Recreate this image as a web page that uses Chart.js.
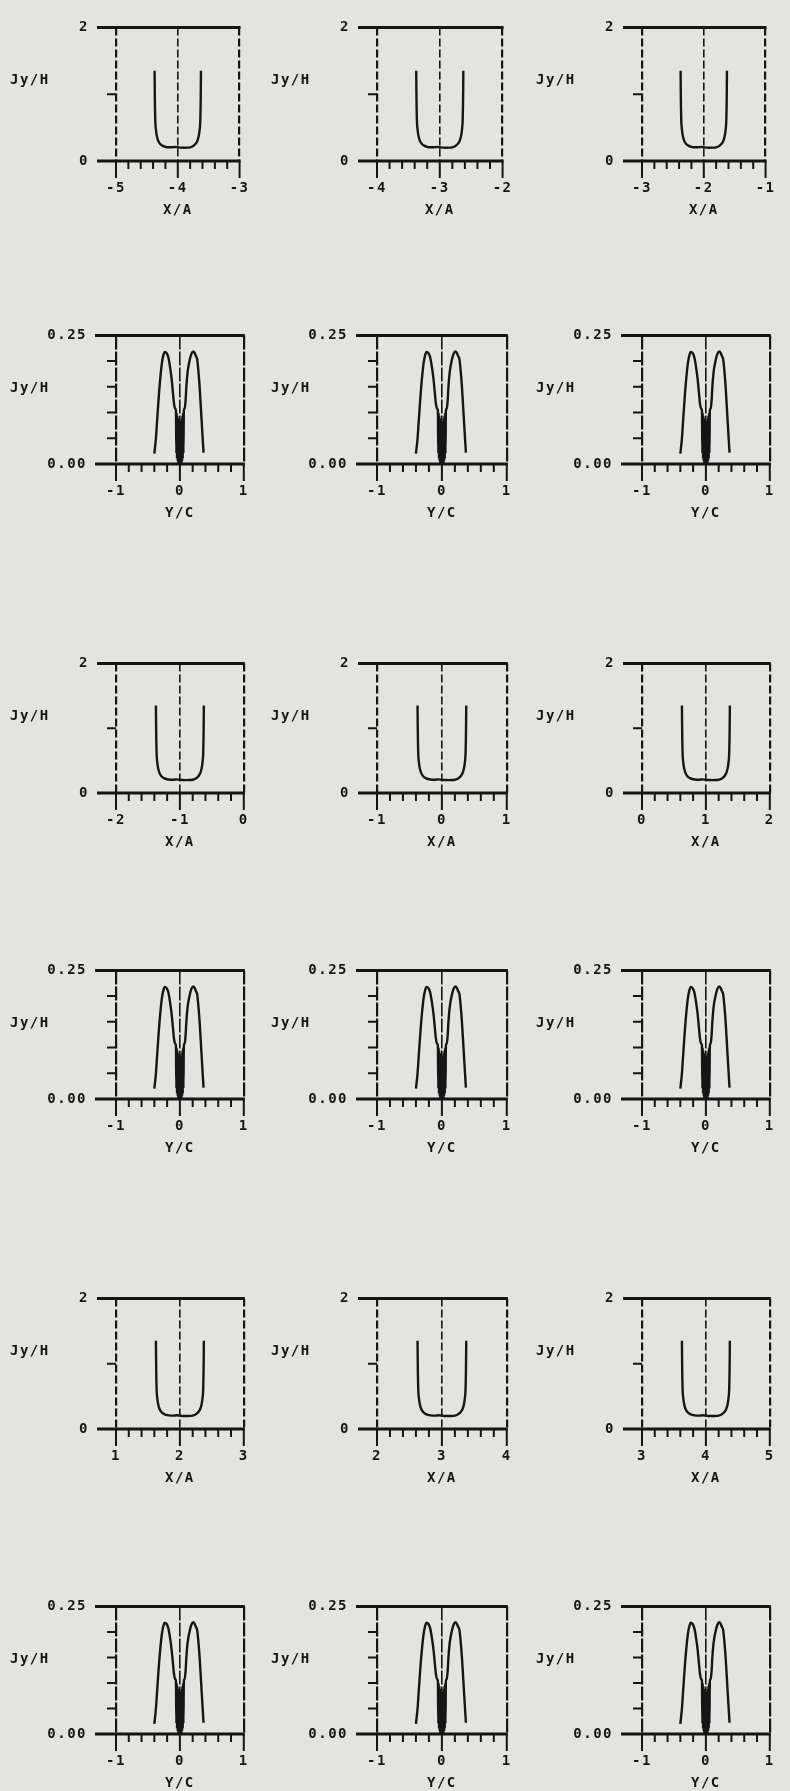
<!DOCTYPE html>
<html>
<head>
<meta charset="utf-8">
<script src="https://cdn.jsdelivr.net/npm/chart.js@4.4.0/dist/chart.umd.min.js"></script>
<style>
  html, body { margin: 0; padding: 0; }
  body { width: 790px; height: 1791px; background: #e3e3e0; position: relative; overflow: hidden; }
  canvas { position: absolute; }
</style>
</head>
<body>
<script>
// centres of the X/A panels, row by row (rows 1, 3, 5 of the sheet)
const xaCentres = [-4, -3, -2, -1, 0, 1, 2, 3, 4];

// U-shaped Jy/H curve, X/A offset from the panel centre
const xaOffsets = [-0.375, -0.373, -0.37, -0.365, -0.355, -0.34, -0.32, -0.29, -0.25, -0.2, -0.15, -0.1, -0.05, 0,
                   0.05, 0.1, 0.15, 0.2, 0.25, 0.29, 0.32, 0.34, 0.355, 0.365, 0.37, 0.373, 0.375];
const xaJy = [1.35, 1.1, 0.85, 0.62, 0.48, 0.38, 0.31, 0.26, 0.23, 0.212, 0.205, 0.205, 0.21, 0.205,
              0.2, 0.198, 0.2, 0.205, 0.225, 0.26, 0.31, 0.38, 0.48, 0.62, 0.85, 1.1, 1.35];

// double-hump Jy/H curve against Y/C (same in all nine Y/C panels)
const ycPos = [-0.40, -0.375, -0.354, -0.32, -0.283, -0.255, -0.236, -0.21, -0.18, -0.15, -0.13, -0.11, -0.094, -0.075, -0.062,
               -0.055, -0.05, -0.045, -0.04, -0.035, -0.03, -0.025, -0.02, -0.015, -0.01, -0.005, 0,
               0.005, 0.01, 0.015, 0.02, 0.025, 0.03, 0.035, 0.04, 0.045, 0.05, 0.055,
               0.062, 0.075, 0.09, 0.1, 0.12, 0.15, 0.18, 0.21, 0.23, 0.25, 0.27, 0.29, 0.31, 0.34, 0.37];
const ycJy = [0.02, 0.05, 0.089, 0.148, 0.195, 0.213, 0.218, 0.216, 0.207, 0.185, 0.166, 0.14, 0.119, 0.108, 0.104,
              0.02, 0.1, 0.01, 0.095, 0.005, 0.09, 0.0, 0.085, 0.0, 0.08, 0.0, 0.075,
              0.0, 0.08, 0.0, 0.085, 0.0, 0.09, 0.005, 0.095, 0.01, 0.1, 0.02,
              0.104, 0.108, 0.125, 0.148, 0.178, 0.2, 0.214, 0.219, 0.216, 0.21, 0.204, 0.18, 0.148, 0.084, 0.022];

const xaYRange = [0, 2];
const ycYRange = [0, 0.25];
const ycXRange = [-1, 1];

// plot boxes as measured on the sheet
const rowTop = [16, 322, 652, 957, 1287, 1593];
const rowBottom = [161, 464, 793, 1099, 1429, 1734];
const colLeft = [116, 377, 642];
const colRight = [257, 520, 783];

const INK = '#151515';
const FONT = { family: "'DejaVu Sans Mono', monospace", size: 14, weight: 'bold' };
const isInt = v => Math.abs(v - Math.round(v)) < 1e-6;

// frame, ticks and the Jy/H label, drawn from the chart's own scales
const framePlugin = {
  id: 'frame',
  beforeDraw(chart) { chart.ctx.letterSpacing = '1.5px'; },
  afterDraw(chart, args, opts) {
    const { ctx, chartArea: a, scales } = chart;
    const ext = opts.kind === 'xa' ? 19 : 21;
    ctx.save();
    ctx.strokeStyle = INK;
    ctx.lineWidth = 3;
    ctx.beginPath();
    ctx.moveTo(a.left - ext, a.top); ctx.lineTo(a.right + 1, a.top);
    ctx.moveTo(a.left - ext, a.bottom); ctx.lineTo(a.right + 1, a.bottom);
    ctx.stroke();

    ctx.lineWidth = 2;
    ctx.beginPath();
    const ys = scales.y;
    ys.ticks.forEach(t => {
      if (Math.abs(t.value - ys.min) < 1e-6 || Math.abs(t.value - ys.max) < 1e-6) return;
      const py = ys.getPixelForValue(t.value);
      ctx.moveTo(a.left - 9, py); ctx.lineTo(a.left, py);
    });
    scales.x.ticks.forEach(t => {
      const px = scales.x.getPixelForValue(t.value);
      ctx.moveTo(px, a.bottom); ctx.lineTo(px, a.bottom + (isInt(t.value) ? 17 : 8));
    });
    ctx.stroke();

    ctx.fillStyle = INK;
    ctx.font = 'bold 14px "DejaVu Sans Mono", monospace';
    ctx.textAlign = 'left';
    ctx.textBaseline = 'middle';
    ctx.fillText('Jy/H', a.left - 106, a.top + 53);
    ctx.restore();
  }
};

function makePanel(row, col) {
  const kind = row % 2 === 0 ? 'xa' : 'yc';
  const L = colLeft[col], R = colRight[col], T = rowTop[row], B = rowBottom[row];
  const cv = document.createElement('canvas');
  cv.width = (R - L) + 126;
  cv.height = (B - T) + 76;
  cv.style.left = (L - 116) + 'px';
  cv.style.top = (T - 16) + 'px';
  document.body.appendChild(cv);

  let points, xMin, xMax, yRange, xTitle;
  if (kind === 'xa') {
    const c = xaCentres[(row / 2) * 3 + col];
    points = xaOffsets.map((o, i) => ({ x: c + o, y: xaJy[i] }));
    xMin = c - 1; xMax = c + 1; yRange = xaYRange; xTitle = 'X/A';
  } else {
    points = ycPos.map((p, i) => ({ x: p, y: ycJy[i] }));
    xMin = ycXRange[0]; xMax = ycXRange[1]; yRange = ycYRange; xTitle = 'Y/C';
  }

  new Chart(cv, {
    type: 'line',
    data: {
      datasets: [{
        data: points,
        borderColor: INK,
        borderWidth: 2.4,
        pointRadius: 0,
        cubicInterpolationMode: 'monotone',
        fill: false
      }]
    },
    options: {
      responsive: false,
      animation: false,
      devicePixelRatio: 1,
      layout: { padding: { top: 16, right: 10, left: 0, bottom: 0 } },
      plugins: { legend: { display: false }, tooltip: { enabled: false }, frame: { kind } },
      scales: {
        x: {
          type: 'linear', min: xMin, max: xMax,
          afterFit: s => { s.height = 60; },
          ticks: {
            stepSize: 0.2, autoSkip: false, maxRotation: 0, padding: 19,
            color: INK, font: FONT,
            callback: v => isInt(v) ? String(Math.round(v)) : ''
          },
          grid: {
            drawOnChartArea: true, drawTicks: false,
            color: c => isInt(c.tick.value) ? INK : 'rgba(0,0,0,0)',
            lineWidth: c => {
              if (!isInt(c.tick.value)) return 0;
              return (c.tick.value === xMin || c.tick.value === xMax) ? 2.2 : 1.6;
            }
          },
          border: { display: false, dash: kind === 'xa' ? [8, 3] : [14, 2] },
          title: { display: true, text: xTitle, color: INK, font: FONT, padding: { top: 0, bottom: 2 } }
        },
        y: {
          min: yRange[0], max: yRange[1],
          afterFit: s => { s.width = 116; },
          ticks: {
            stepSize: kind === 'xa' ? 1 : 0.05, autoSkip: false,
            padding: kind === 'xa' ? 19 : 21,
            color: INK, font: FONT,
            callback: v => {
              if (Math.abs(v - yRange[0]) < 1e-6 || Math.abs(v - yRange[1]) < 1e-6) {
                return kind === 'xa' ? String(Math.round(v)) : v.toFixed(2);
              }
              return '';
            }
          },
          grid: { display: false },
          border: { display: false }
        }
      }
    },
    plugins: [framePlugin]
  });
}

for (let r = 0; r < 6; r++) {
  for (let c = 0; c < 3; c++) makePanel(r, c);
}
</script>
</body>
</html>
